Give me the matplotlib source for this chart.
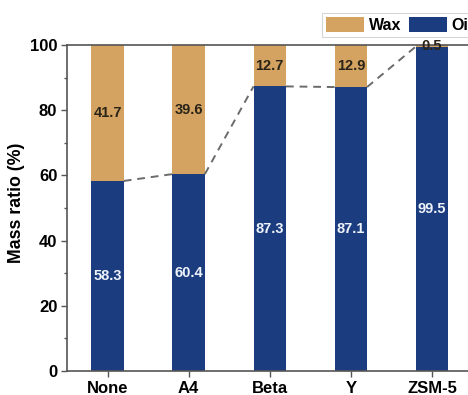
import matplotlib
matplotlib.use("Agg")
import matplotlib.pyplot as plt
from matplotlib.ticker import MultipleLocator
import numpy as np

plt.rcParams['font.family'] = ['Liberation Sans', 'DejaVu Sans']
plt.rcParams['font.weight'] = 'bold'

catalysts = ["None", "A4", "Beta", "Y", "ZSM-5"]
oil = [58.3, 60.4, 87.3, 87.1, 99.5]
wax = [41.7, 39.6, 12.7, 12.9, 0.5]

oil_color = "#1B3D7F"
wax_color = "#D4A362"
bar_w = 0.4

fig = plt.figure(figsize=(4.68, 3.95), dpi=100)
ax = fig.add_axes([67 / 468, 24 / 395, 405.5 / 468, 326 / 395])

x = np.arange(len(catalysts))
b_oil = ax.bar(x, oil, bar_w, color=oil_color, label="Oil", zorder=2)
b_wax = ax.bar(x, wax, bar_w, bottom=oil, color=wax_color, label="Wax", zorder=2)

# dashed connectors between the oil tops of neighbouring bars
for i in range(len(x) - 1):
    ax.plot([x[i] + bar_w / 2, x[i + 1] - bar_w / 2], [oil[i], oil[i + 1]],
            ls=(0, (4, 3)), color="#6b6b6b", lw=1.4, zorder=3)

for xi, o, w in zip(x, oil, wax):
    ax.text(xi, o / 2, f"{o:.1f}", ha="center", va="center", color="#EEF2FA",
            fontsize=10.5, fontweight="bold", zorder=4)
    ax.text(xi, o + w / 2, f"{w:.1f}", ha="center", va="center", color="#2a2418",
            fontsize=10.5, fontweight="bold", zorder=4)

ax.set_xlim(-0.5, 4.5)
ax.set_ylim(0, 100)
ax.set_xticks(x)
ax.set_xticklabels(catalysts)
ax.yaxis.set_major_locator(MultipleLocator(20))
ax.yaxis.set_minor_locator(MultipleLocator(10))
ax.tick_params(axis="both", which="major", labelsize=12, length=4, width=1,
               color="#555555", pad=3)
ax.tick_params(axis="y", which="minor", length=2, width=1, color="#555555")
ax.tick_params(axis="x", which="minor", bottom=False)
for lab in ax.get_xticklabels() + ax.get_yticklabels():
    lab.set_fontweight("bold")
ax.set_ylabel("Mass ratio (%)", fontsize=12.8, fontweight="bold")
ax.yaxis.set_label_coords(-0.1035, 0.515)

for s in ax.spines.values():
    s.set_color("#555555")
    s.set_linewidth(1.2)

leg = fig.legend(handles=[b_wax, b_oil], labels=["Wax", "Oil"], ncol=2,
                 loc="upper left", bbox_to_anchor=(322 / 468, 1 - 13 / 395),
                 borderaxespad=0, borderpad=0.25, frameon=True, fancybox=False,
                 handlelength=2.4, handleheight=1.05, handletextpad=0.3,
                 columnspacing=0.45, prop={"weight": "bold", "size": 11.5})
leg.get_frame().set_edgecolor("#cccccc")
leg.get_frame().set_linewidth(0.8)

fig.savefig("out.png", dpi=100)
